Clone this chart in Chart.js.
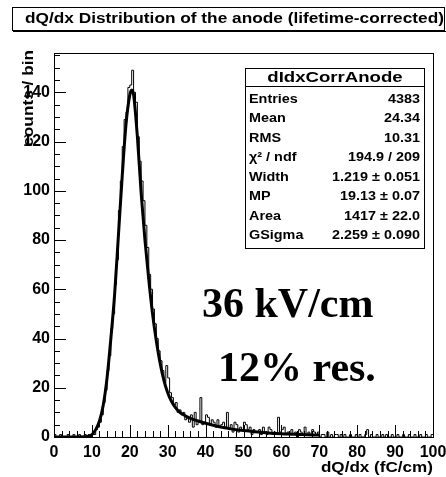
<!DOCTYPE html>
<html>
<head>
<meta charset="utf-8">
<script src="https://cdn.jsdelivr.net/npm/chart.js@4/dist/chart.umd.min.js"></script>
<style>
  html, body { margin: 0; padding: 0; background: #fff; }
</style>
</head>
<body>
<canvas id="chart" width="446" height="477"></canvas>
<script>
// histogram: 0.5 fC/cm bins starting at 0
const binStart = 0
const binWidth = 0.5
const counts = [
  1,0,0,1,0,0,0,1,0,0,   1,0,0,1,0,0,1,0,1,0,
  1,1,3,4,6,9,14,19,27,33,   44,50,62,72,92,104,118,129,132,142,
  143,149,140,136,122,112,104,96,86,77,   66,60,52,46,40,35,31,27,22,29,
  24,18,16,13,14,10,11,9,10,7,   8,6,9,4,10,5,6,16,5,6,
  9,8,5,7,6,4,7,4,5,6,   4,10,3,5,2,6,5,2,4,3,
  6,5,3,4,1,3,2,2,3,1,   4,2,1,4,3,1,2,1,8,2,
  3,4,1,2,1,3,1,2,0,3,   2,1,4,1,2,1,3,2,1,2,
  0,1,1,0,2,0,1,0,1,1,   0,1,0,1,0,0,1,0,0,1,
  0,1,0,0,1,3,0,1,0,0,   1,0,0,1,0,1,0,0,1,0,
  0,1,0,0,1,0,0,1,0,0,   1,0,0,1,0,0,1,0,0,1
]

// Landau (x) Gauss fit curve
const fitX = [0,5,9,10,11,12,13,14,15,16,17,18,19,20,20.5,21,22,23,24,25,26,27,28,29,30,31,32,33,34,35,36,38,40,42,44,46,48,50,55,60,65,70]
const fitY = [0,0,0.2,1,3,6.5,13,24,40,58,82,106,127,139,141,139,122,99,80,64,50,39,30,23,18,14.5,12,10.3,9.2,8.3,7.6,6.5,5.6,4.8,4.1,3.5,3,2.6,1.8,1.3,1,0.8]

const xTicks = [0,10,20,30,40,50,60,70,80,90,100]
const yTicks = [0,20,40,60,80,100,120,140]
const xMin = 0, xMax = 100, yMax = 156

const title = 'dQ/dx Distribution of the anode (lifetime-corrected)'
const xTitle = 'dQ/dx (fC/cm)'
const yTitle = 'counts / bin'
const statsName = 'dIdxCorrAnode'
const statsLabels = ['Entries', 'Mean', 'RMS', 'χ² / ndf', 'Width', 'MP', 'Area', 'GSigma']
const statsValues = ['4383', '24.34', '10.31', '194.9 / 209', '1.219 ± 0.051', '19.13 ± 0.07', '1417 ± 22.0', '2.259 ± 0.090']
const noteLines = ['36 kV/cm', '12% res.']

var histPoints = counts.map((c, i) => ({x: binStart + i*binWidth, y: c}))
histPoints.push({x: binStart + counts.length*binWidth, y: counts[counts.length-1]})
var fitPoints = fitX.map((x, i) => ({x: x, y: fitY[i]}))

function sText(ctx, txt, x, y, size, sx, align, family) {
  ctx.save()
  ctx.font = 'bold ' + size + 'px ' + (family || '"Liberation Sans", Arial, sans-serif')
  ctx.textBaseline = 'alphabetic'
  var w = ctx.measureText(txt).width * sx
  var x0 = align == 'right' ? x - w : align == 'center' ? x - w/2 : x
  ctx.translate(x0, y)
  ctx.scale(sx, 1)
  ctx.textAlign = 'left'
  ctx.fillText(txt, 0, 0)
  ctx.restore()
}

const rootDecor = {
  id: 'rootDecor',
  afterDraw(chart) {
    const ctx = chart.ctx
    const a = chart.chartArea
    const xs = chart.scales.x, ys = chart.scales.y
    ctx.save()
    ctx.strokeStyle = '#000'
    ctx.fillStyle = '#000'
    ctx.lineWidth = 1

    // frame
    ctx.strokeRect(Math.round(a.left)+0.5, Math.round(a.top)+0.5, Math.round(a.right-a.left), Math.round(a.bottom-a.top))

    // ticks (inward, ROOT style)
    ctx.beginPath()
    for (var v = xMin; v <= xMax; v += 2) {
      var px = Math.round(xs.getPixelForValue(v)) + 0.5
      var len = xTicks.includes(v) ? 12 : 6
      ctx.moveTo(px, a.bottom); ctx.lineTo(px, a.bottom - len)
    }
    for (var v = 0; v <= yMax; v += 5) {
      var py = Math.round(ys.getPixelForValue(v)) + 0.5
      var len = yTicks.includes(v) ? 12 : 6
      ctx.moveTo(a.left, py); ctx.lineTo(a.left + len, py)
    }
    ctx.stroke()

    // title box
    ctx.strokeRect(12.5, 7.5, 432, 23)
    ctx.beginPath(); ctx.moveTo(13, 31.5); ctx.lineTo(446, 31.5); ctx.stroke()
    sText(ctx, title, 25, 23, 14.5, 1.19, 'left')

    // axis titles
    sText(ctx, xTitle, 433, 472, 15, 1.14, 'right')
    ctx.save()
    ctx.translate(33, 50)
    ctx.rotate(-Math.PI/2)
    sText(ctx, yTitle, 0, 0, 15, 1.15, 'right')
    ctx.restore()

    // stats box
    ctx.fillStyle = '#fff'
    ctx.fillRect(245.5, 68.5, 179, 180)
    ctx.fillStyle = '#000'
    ctx.strokeRect(245.5, 68.5, 179, 180)
    ctx.beginPath(); ctx.moveTo(245.5, 86.5); ctx.lineTo(424.5, 86.5); ctx.stroke()
    sText(ctx, statsName, 335, 82, 15.5, 1.2, 'center')
    statsLabels.forEach((lab, i) => {
      var y = 102.5 + i*19.5
      sText(ctx, lab, 249, y, 12, 1.2, 'left')
      sText(ctx, statsValues[i], 420, y, 12, 1.2, 'right')
    })

    // annotation
    const serif = '"Liberation Serif", "Times New Roman", serif'
    sText(ctx, noteLines[0], 202, 317, 42, 1, 'left', serif)
    sText(ctx, noteLines[1], 218, 381, 42, 1, 'left', serif)
    ctx.restore()
  }
}

new Chart(document.getElementById('chart'), {
  type: 'line',
  data: {
    datasets: [
      {
        label: 'fit',
        data: fitPoints,
        borderColor: '#000',
        borderWidth: 3,
        cubicInterpolationMode: 'monotone',
        pointRadius: 0,
        fill: false,
        order: 1
      },
      {
        label: statsName,
        data: histPoints,
        borderColor: '#000',
        borderWidth: 1,
        stepped: true,
        pointRadius: 0,
        fill: false,
        order: 2
      }
    ]
  },
  options: {
    responsive: false,
    animation: false,
    devicePixelRatio: 1,
    layout: { padding: { left: 0, top: 53, right: 13, bottom: 0 } },
    plugins: { legend: { display: false }, tooltip: { enabled: false }, title: { display: false } },
    scales: {
      x: {
        type: 'linear', min: xMin, max: xMax,
        afterBuildTicks: s => { s.ticks = xTicks.map(v => ({value: v})) },
        afterFit: s => { s.height = 40; s.paddingLeft = 0; s.paddingRight = 0 },
        grid: { display: false, drawTicks: false },
        border: { display: false },
        ticks: { color: '#000', padding: 6, maxRotation: 0, autoSkip: false,
          font: { family: '"Liberation Sans", Arial, sans-serif', weight: 'bold', size: 16 } }
      },
      y: {
        type: 'linear', min: 0, max: yMax,
        afterBuildTicks: s => { s.ticks = yTicks.map(v => ({value: v})) },
        afterFit: s => { s.width = 54; s.paddingTop = 0; s.paddingBottom = 0 },
        grid: { display: false, drawTicks: false },
        border: { display: false },
        ticks: { color: '#000', padding: 4, autoSkip: false,
          font: { family: '"Liberation Sans", Arial, sans-serif', weight: 'bold', size: 16 } }
      }
    }
  },
  plugins: [rootDecor]
})
</script>
</body>
</html>
